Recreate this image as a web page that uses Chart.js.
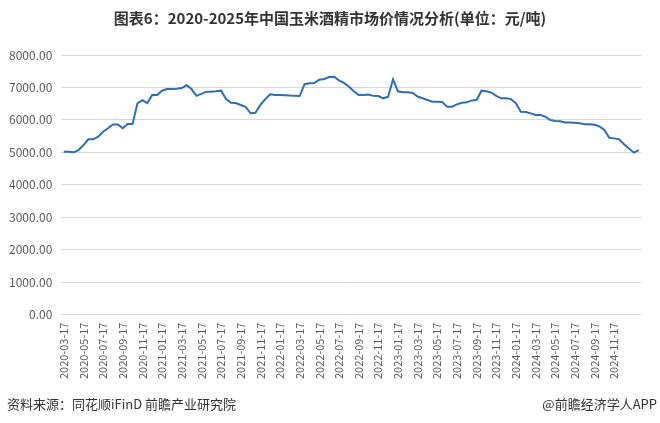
<!DOCTYPE html>
<html>
<head>
<meta charset="utf-8">
<script src="https://cdn.jsdelivr.net/npm/chart.js@4.4.1/dist/chart.umd.min.js"></script>
<style>
  body { margin: 0; background: #fff; }
  #wrap { width: 660px; height: 423px; position: relative; }
</style>
</head>
<body>
<div id="wrap"><canvas id="price-chart"></canvas></div>
<script>
        // Half-monthly price points, 2020-03-17 .. 2025-02-02 (元/吨)
        const prices = [
            5020, 5020, 5000, 5070, 5220, 5400, 5400, 5480, 5635, 5740,
            5860, 5860, 5740, 5870, 5870, 6510, 6610, 6520, 6770, 6770,
            6900, 6950, 6950, 6960, 6980, 7070, 6950, 6740, 6800, 6870,
            6870, 6880, 6900, 6650, 6530, 6520, 6460, 6400, 6203, 6220,
            6460, 6640, 6790, 6770, 6765, 6760, 6750, 6745, 6735, 7100,
            7128, 7140, 7240, 7260, 7320, 7330, 7220, 7140, 7030, 6880,
            6767, 6767, 6780, 6740, 6735, 6665, 6715, 7250, 6880, 6850,
            6850, 6830, 6720, 6665, 6613, 6561, 6561, 6550, 6407, 6407,
            6480, 6530, 6540, 6600, 6613, 6900, 6880, 6840, 6740, 6665,
            6665, 6640, 6510, 6252, 6240, 6200, 6150, 6150, 6100, 5995,
            5965, 5960, 5920, 5920, 5910, 5894, 5863, 5863, 5850, 5800,
            5687, 5450, 5430, 5400, 5250, 5120, 4990, 5070
        ];

        // Axis labels shown under the chart (every two months)
        const tickLabels = [
            '2020-03-17', '2020-05-17', '2020-07-17', '2020-09-17', '2020-11-17',
            '2021-01-17', '2021-03-17', '2021-05-17', '2021-07-17', '2021-09-17', '2021-11-17',
            '2022-01-17', '2022-03-17', '2022-05-17', '2022-07-17', '2022-09-17', '2022-11-17',
            '2023-01-17', '2023-03-17', '2023-05-17', '2023-07-17', '2023-09-17', '2023-11-17',
            '2024-01-17', '2024-03-17', '2024-05-17', '2024-07-17', '2024-09-17', '2024-11-17'
        ];

        const yTicks = [0, 1000, 2000, 3000, 4000, 5000, 6000, 7000, 8000];

        // Category dates: the 17th of each month and the 2nd of the next one
        const categories = [];
        for (let i = 0; i < prices.length; i++) {
            const monthOffset = Math.floor(i / 2) + (i % 2);
            const y = 2020 + Math.floor((2 + monthOffset) / 12);
            const m = (2 + monthOffset) % 12 + 1;
            const day = i % 2 === 0 ? '17' : '02';
            categories.push(y + '-' + String(m).padStart(2, '0') + '-' + day);
        }

        const cjk = "'Noto Sans CJK SC', 'Noto Sans', sans-serif";

        // Title and source lines
        const textPlugin = {
            id: 'texts',
            afterDraw(chart) {
                const ctx = chart.ctx;
                ctx.save();
                ctx.fillStyle = '#333333';
                ctx.font = 'bold 15px ' + cjk;
                ctx.textAlign = 'center';
                ctx.textBaseline = 'middle';
                ctx.fillText('图表6：2020-2025年中国玉米酒精市场价情况分析(单位：元/吨)', 330, 18);

                ctx.font = '13px ' + cjk;
                ctx.textAlign = 'left';
                ctx.fillText('资料来源：同花顺iFinD 前瞻产业研究院', 7, 404);
                ctx.textAlign = 'right';
                ctx.fillText('@前瞻经济学人APP', 657, 404);
                ctx.restore();
            }
        };

        const priceChart = new Chart(document.getElementById('price-chart'), {
            type: 'line',
            data: {
                labels: categories,
                datasets: [{
                    label: '玉米酒精市场价',
                    data: prices,
                    borderColor: '#2f6db5',
                    borderWidth: 2,
                    pointRadius: 0,
                    tension: 0,
                    fill: false
                }]
            },
            options: {
                responsive: true,
                maintainAspectRatio: false,
                animation: false,
                layout: { padding: { top: 55, left: 0, right: 4, bottom: 36 } },
                plugins: {
                    legend: { display: false },
                    tooltip: { enabled: false }
                },
                scales: {
                    x: {
                        offset: true,
                        grid: { display: false, drawTicks: false },
                        border: { display: false },
                        ticks: {
                            autoSkip: false,
                            maxRotation: 90,
                            minRotation: 90,
                            padding: 8,
                            color: '#595959',
                            font: { size: 11, family: cjk },
                            callback: function (value) {
                                const lab = this.getLabelForValue(value);
                                return tickLabels.includes(lab) ? lab : '';
                            }
                        }
                    },
                    y: {
                        min: 0,
                        max: 8000,
                        afterBuildTicks: (scale) => {
                            scale.ticks = yTicks.map(v => ({ value: v }));
                        },
                        grid: { color: '#d9d9d9', drawTicks: false },
                        border: { display: false },
                        ticks: {
                            padding: 9,
                            color: '#595959',
                            font: { size: 12, family: cjk },
                            callback: (v) => Number(v).toFixed(2)
                        }
                    }
                }
            },
            plugins: [textPlugin]
        });
</script>
</body>
</html>
